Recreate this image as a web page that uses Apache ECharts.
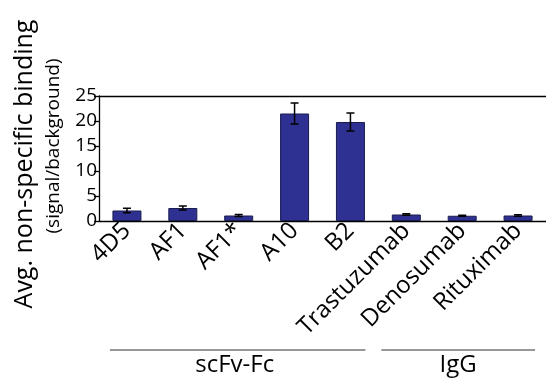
<!DOCTYPE html>
<html>
<head>
<meta charset="utf-8">
<script src="https://cdn.jsdelivr.net/npm/echarts@6/dist/echarts.min.js"></script>
<style>
  html, body { margin: 0; padding: 0; background: #fff; }
  #chart { width: 546px; height: 381px; }
</style>
</head>
<body>
<div id="chart"></div>
<script>
// Antibody constructs and their mean non-specific binding (signal/background)
const categories = ['4D5', 'AF1', 'AF1*', 'A10', 'B2', 'Trastuzumab', 'Denosumab', 'Rituximab'];
const meanValues = [2.1, 2.6, 1.1, 21.5, 19.8, 1.3, 1.05, 1.1];
const errorValues = [0.45, 0.4, 0.2, 2.1, 1.8, 0.15, 0.1, 0.15];
const yTicks = [0, 5, 10, 15, 20, 25];
// Format groups: index range of categories belonging to each
const groups = [
  { name: 'scFv-Fc', from: 0, to: 4 },
  { name: 'IgG', from: 5, to: 7 }
];

const FONT = '"Open Sans"';
const chart = echarts.init(document.getElementById('chart'), null, { renderer: 'canvas' });

const errorData = categories.map((c, i) => [i, meanValues[i] - errorValues[i], meanValues[i] + errorValues[i]]);

const option = {
  animation: false,
  textStyle: { fontFamily: FONT, color: '#000' },
  grid: { left: 99, right: 0, top: 96, bottom: 160, containLabel: false },
  xAxis: [{
    type: 'category',
    data: categories,
    axisLine: { lineStyle: { color: '#000', width: 1.3 } },
    axisTick: { show: false },
    axisLabel: {
      rotate: 45, fontSize: 24, fontFamily: FONT, color: '#000', margin: 6, interval: 0
    }
  }, {
    type: 'category',
    position: 'top',
    data: categories,
    axisLine: { lineStyle: { color: '#000', width: 1.3 } },
    axisTick: { show: false },
    axisLabel: { show: false }
  }],
  yAxis: {
    type: 'value',
    min: yTicks[0],
    max: yTicks[yTicks.length - 1],
    interval: yTicks[1] - yTicks[0],
    splitLine: { show: false },
    axisLine: { show: true, lineStyle: { color: '#000', width: 1.3 } },
    axisTick: { show: true, length: 5, lineStyle: { color: '#000', width: 1.3 } },
    axisLabel: { fontSize: 19, fontFamily: FONT, color: '#000', margin: 2 }
  },
  series: [{
    type: 'bar',
    data: meanValues,
    barWidth: 29,
    itemStyle: { color: '#2e3192', borderColor: '#1b1d4d', borderWidth: 1 }
  }, {
    type: 'custom',
    data: errorData,
    z: 10,
    renderItem: function (params, api) {
      const x = api.value(0);
      const lo = api.coord([x, api.value(1)]);
      const hi = api.coord([x, api.value(2)]);
      const cap = 4;
      const s = { stroke: '#000', lineWidth: 1.5 };
      return {
        type: 'group',
        children: [
          { type: 'line', shape: { x1: hi[0], y1: hi[1], x2: lo[0], y2: lo[1] }, style: s },
          { type: 'line', shape: { x1: hi[0] - cap, y1: hi[1], x2: hi[0] + cap, y2: hi[1] }, style: s },
          { type: 'line', shape: { x1: lo[0] - cap, y1: lo[1], x2: lo[0] + cap, y2: lo[1] }, style: s }
        ]
      };
    }
  }]
};

chart.setOption(option);

// Axis title and group brackets placed relative to the category positions
const groupGraphics = [];
groups.forEach(function (g, gi) {
  const x0 = chart.convertToPixel({ xAxisIndex: 0 }, g.from);
  const x1 = chart.convertToPixel({ xAxisIndex: 0 }, g.to);
  const left = x0 - (gi === 0 ? 17 : 25);
  const right = x1 + (gi === 0 ? 15 : 17);
  groupGraphics.push({
    type: 'line',
    shape: { x1: left, y1: 350, x2: right, y2: 350 },
    style: { stroke: '#333', lineWidth: 1.2 }
  });
  groupGraphics.push({
    type: 'text',
    x: (left + right) / 2 + (gi === 0 ? -3 : 0),
    y: 377,
    style: {
      text: g.name, fontSize: 24, fontFamily: FONT, fill: '#000',
      textAlign: 'center', textVerticalAlign: 'bottom'
    }
  });
});

chart.setOption({
  graphic: [
    {
      type: 'text', x: 25, y: 164, rotation: Math.PI / 2,
      style: {
        text: 'Avg. non-specific binding', fontSize: 25, fontFamily: FONT, fill: '#000',
        textAlign: 'center', textVerticalAlign: 'middle'
      }
    },
    {
      type: 'text', x: 54, y: 146, rotation: Math.PI / 2,
      style: {
        text: '(signal/background)', fontSize: 19, fontFamily: FONT, fill: '#000',
        textAlign: 'center', textVerticalAlign: 'middle'
      }
    }
  ].concat(groupGraphics)
});
</script>
</body>
</html>
